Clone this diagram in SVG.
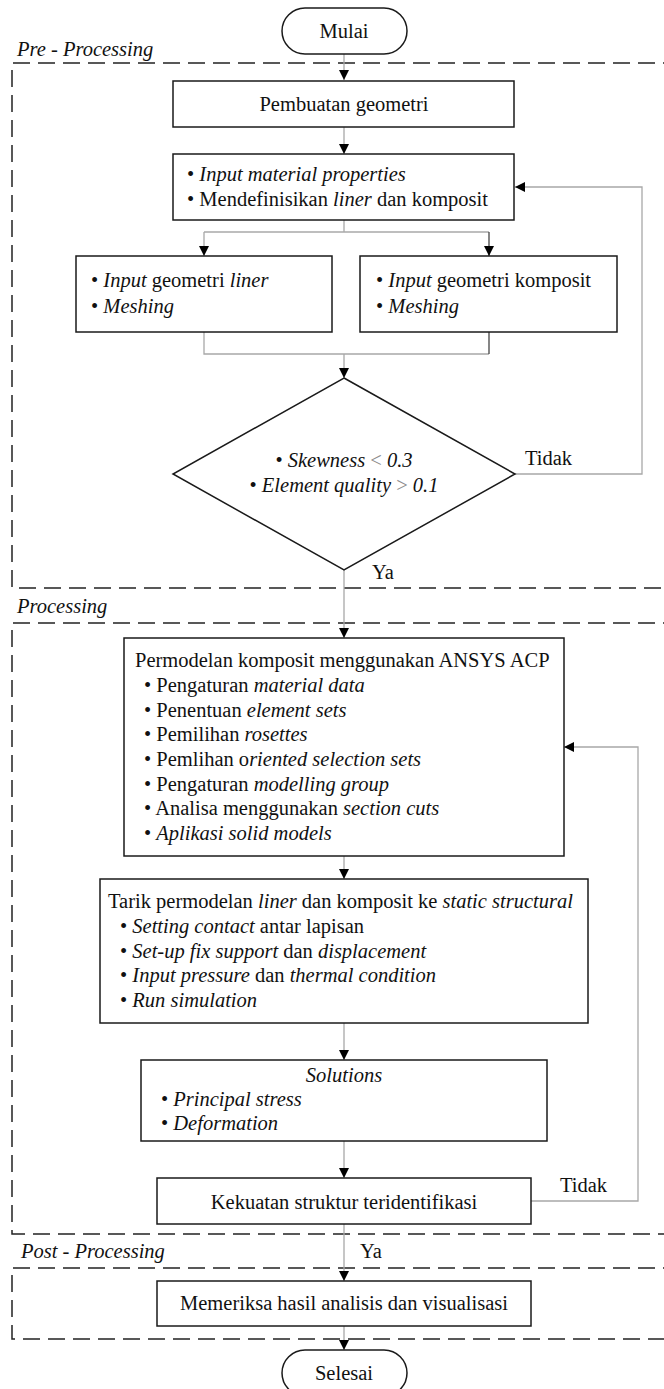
<svg xmlns="http://www.w3.org/2000/svg" width="664" height="1389" viewBox="0 0 664 1389">
<defs>
<style>
.t{font-family:"Liberation Serif","Times New Roman",serif;font-size:20.5px;fill:#111}
.c{text-anchor:middle}
.i{font-style:italic}
.g{fill:#8a8a8a}
.box{fill:#fff;stroke:#1a1a1a;stroke-width:1.5}
.dash{fill:none;stroke:#222;stroke-width:1.5;stroke-dasharray:17 8}
.ln{fill:none;stroke:#a8a8a8;stroke-width:1.3}
.dk{stroke:#444}
</style>
<marker id="ah" viewBox="0 0 10 10" refX="10" refY="5" markerWidth="10" markerHeight="10" markerUnits="userSpaceOnUse" orient="auto">
<path d="M0,0 L10,5 L0,10 Z" fill="#000"/>
</marker>
</defs>
<rect width="664" height="1389" fill="#fff"/>

<g id="regions">
<path class="dash" d="M680,63 H12 V588 H680"/>
<path class="dash" d="M680,623 H12 V1234 H680"/>
<path class="dash" d="M680,1268 H12 V1339 H680"/>
<text class="t i" x="17" y="56">Pre - Processing</text>
<text class="t i" x="17" y="613">Processing</text>
<text class="t i" x="21" y="1258">Post - Processing</text>
</g>

<g id="connectors">
<path class="ln" d="M344,54 V80" marker-end="url(#ah)"/>
<path class="ln" d="M344,127 V154" marker-end="url(#ah)"/>
<path class="ln" d="M344,220 V232"/>
<path class="ln" d="M204,232 H489"/>
<path class="ln" d="M204,232 V256" marker-end="url(#ah)"/>
<path class="ln dk" d="M489,232 V256" marker-end="url(#ah)"/>
<path class="ln" d="M204,332 V354 H489"/>
<path class="ln dk" d="M489,354 V332"/>
<path class="ln" d="M344,354 V378" marker-end="url(#ah)"/>
<path class="ln" d="M515,474 H642 V187 H515" marker-end="url(#ah)"/>
<path class="ln" d="M344,570 V638" marker-end="url(#ah)"/>
<path class="ln" d="M344,856 V879" marker-end="url(#ah)"/>
<path class="ln" d="M344,1023 V1060" marker-end="url(#ah)"/>
<path class="ln" d="M344,1141 V1178" marker-end="url(#ah)"/>
<path class="ln" d="M531,1201 H638 V747 H564" marker-end="url(#ah)"/>
<path class="ln" d="M344,1224 V1281" marker-end="url(#ah)"/>
<path class="ln" d="M344,1326 V1350" marker-end="url(#ah)"/>
<text class="t" x="525" y="465">Tidak</text>
<text class="t" x="372" y="579">Ya</text>
<text class="t" x="560" y="1192">Tidak</text>
<text class="t" x="360" y="1258">Ya</text>
</g>

<g id="mulai">
<rect class="box" x="282" y="8" width="125" height="46" rx="23"/>
<text class="t c" x="344" y="38">Mulai</text>
</g>

<g id="pembuatan">
<rect class="box" x="173" y="81" width="341" height="46"/>
<text class="t c" x="344" y="111">Pembuatan geometri</text>
</g>

<g id="material">
<rect class="box" x="173" y="154" width="341" height="66"/>
<text class="t" x="187" y="181">• <tspan class="i">Input material properties</tspan></text>
<text class="t" x="187" y="206">• Mendefinisikan <tspan class="i">liner</tspan> dan komposit</text>
</g>

<g id="liner">
<rect class="box" x="76" y="256" width="256" height="76"/>
<text class="t" x="91" y="287">• <tspan class="i">Input</tspan> geometri <tspan class="i">liner</tspan></text>
<text class="t" x="91" y="313">• <tspan class="i">Meshing</tspan></text>
</g>

<g id="komposit">
<rect class="box" x="360" y="256" width="257" height="76"/>
<text class="t" x="376" y="287">• <tspan class="i">Input</tspan> geometri komposit</text>
<text class="t" x="376" y="313">• <tspan class="i">Meshing</tspan></text>
</g>

<g id="decision1">
<path class="box" d="M344,378 L515,474 L344,570 L173,474 Z"/>
<text class="t c" x="344" y="467">• <tspan class="i">Skewness</tspan> <tspan class="g">&lt;</tspan> <tspan class="i">0.3</tspan></text>
<text class="t c" x="344" y="492">• <tspan class="i">Element quality</tspan> <tspan class="g">&gt;</tspan> <tspan class="i">0.1</tspan></text>
</g>

<g id="acp">
<rect class="box" x="124" y="638" width="440" height="218"/>
<text class="t" x="135" y="667">Permodelan komposit menggunakan ANSYS ACP</text>
<text class="t" x="144" y="692">• Pengaturan <tspan class="i">material data</tspan></text>
<text class="t" x="144" y="717">• Penentuan <tspan class="i">element sets</tspan></text>
<text class="t" x="144" y="741">• Pemilihan <tspan class="i">rosettes</tspan></text>
<text class="t" x="144" y="766">• Pemlihan o<tspan class="i">riented selection sets</tspan></text>
<text class="t" x="144" y="791">• Pengaturan <tspan class="i">modelling group</tspan></text>
<text class="t" x="144" y="815">• Analisa menggunakan <tspan class="i">section cuts</tspan></text>
<text class="t" x="144" y="840">• <tspan class="i">Aplikasi solid models</tspan></text>
</g>

<g id="static">
<rect class="box" x="100" y="879" width="488" height="144"/>
<text class="t" x="108" y="908">Tarik permodelan <tspan class="i">liner</tspan> dan komposit ke <tspan class="i">static structural</tspan></text>
<text class="t" x="120" y="933">• <tspan class="i">Setting contact</tspan> antar lapisan</text>
<text class="t" x="120" y="958">• <tspan class="i">Set-up fix support</tspan> dan <tspan class="i">displacement</tspan></text>
<text class="t" x="120" y="982">• <tspan class="i">Input pressure</tspan> dan <tspan class="i">thermal condition</tspan></text>
<text class="t" x="120" y="1007">• <tspan class="i">Run simulation</tspan></text>
</g>

<g id="solutions">
<rect class="box" x="141" y="1060" width="406" height="81"/>
<text class="t c i" x="344" y="1082">Solutions</text>
<text class="t" x="161" y="1106">• <tspan class="i">Principal stress</tspan></text>
<text class="t" x="161" y="1130">• <tspan class="i">Deformation</tspan></text>
</g>

<g id="kekuatan">
<rect class="box" x="157" y="1178" width="374" height="46"/>
<text class="t c" x="344" y="1209">Kekuatan struktur teridentifikasi</text>
</g>

<g id="memeriksa">
<rect class="box" x="157" y="1281" width="374" height="45"/>
<text class="t c" x="344" y="1310">Memeriksa hasil analisis dan visualisasi</text>
</g>

<g id="selesai">
<rect class="box" x="282" y="1350" width="125" height="46" rx="23"/>
<text class="t c" x="344" y="1380">Selesai</text>
</g>
</svg>
